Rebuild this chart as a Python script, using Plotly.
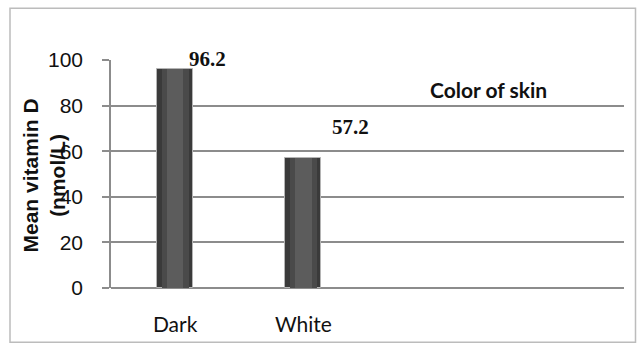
import plotly.graph_objects as go

# Mean vitamin D by skin colour
categories = ["Dark", "White"]
mean_vit_d = [96.2, 57.2]
y_ticks = [0, 20, 40, 60, 80, 100]
series_name = "Color of skin"
y_title = "Mean vitamin D<br>(nmol/L)"

W, H = 640, 348
L, R, T, B = 111, 16, 60, 57
pw, ph = W - L - R, H - T - B

def px_x(p):
    return (p - L) / pw

def px_y(p):
    return (H - B - p) / ph

xs = list(range(len(categories)))

fig = go.Figure()
# shaded bar bodies: dark edges, lighter towards the middle
shades = [(0.28, "#3a3a3a"), (0.21, "#4a4a4a"), (0.13, "#5c5c5c")]
for k, (wd, col) in enumerate(shades):
    fig.add_trace(go.Bar(
        x=xs, y=mean_vit_d, width=wd,
        marker=dict(color=col,
                    line=dict(color="#b4b4b4", width=1 if k == 0 else 0)),
        name=series_name, showlegend=False,
        hoverinfo="skip" if k else None,
    ))

# white gap in the top gridline behind the first label
fig.add_shape(
    type="rect", xref="paper", yref="paper",
    x0=px_x(164), x1=px_x(251), y0=px_y(63), y1=px_y(57),
    line=dict(width=0), fillcolor="white", layer="above",
)

# value labels, set above and right of each bar
label_dx = [0.25, 0.37]
label_shift = [10, 31]
for i, v in enumerate(mean_vit_d):
    fig.add_annotation(
        x=xs[i] + label_dx[i], y=v, xref="x", yref="y", yshift=label_shift[i],
        text=f"<b>{v:.1f}</b>", showarrow=False,
        xanchor="center", yanchor="middle",
        font=dict(family="Liberation Serif", size=21, color="#111"),
    )

fig.add_annotation(
    x=px_x(488), y=px_y(90), xref="paper", yref="paper",
    text=f"<b>{series_name}</b>", showarrow=False,
    xanchor="center", yanchor="middle",
    font=dict(family="Lato", size=21, color="#111"),
)

fig.add_annotation(
    x=px_x(44), y=px_y(177), xref="paper", yref="paper",
    text=f"<b>{y_title}</b>", textangle=-90, showarrow=False,
    xanchor="center", yanchor="middle",
    font=dict(family="Liberation Sans", size=21, color="#111"),
)

# chart frame
fig.add_shape(
    type="rect", xref="paper", yref="paper",
    x0=px_x(10), x1=px_x(635.5), y0=px_y(346), y1=px_y(7.5),
    line=dict(color="#bcbcbc", width=1.5), fillcolor="rgba(0,0,0,0)",
    layer="below",
)

fig.update_layout(
    width=W, height=H,
    margin=dict(l=L, r=R, t=T, b=B),
    paper_bgcolor="white", plot_bgcolor="white",
    barmode="overlay", bargap=0,
    font=dict(family="Liberation Sans", color="#111"),
)
fig.update_xaxes(
    range=[-0.5, 3.5], tickvals=xs, ticktext=categories,
    showgrid=False, zeroline=False, showline=False, ticks="",
    tickfont=dict(family="Lato", size=21, color="#111"),
    ticklabelstandoff=22,
)
fig.update_yaxes(
    range=[0, 100], tickvals=y_ticks,
    showgrid=True, gridcolor="#8c8c8c", gridwidth=1.5,
    zeroline=True, zerolinecolor="#8c8c8c", zerolinewidth=2,
    showline=True, linecolor="#8c8c8c", linewidth=1.5,
    ticks="outside", ticklen=7, tickcolor="#8c8c8c", tickwidth=1.5,
    tickfont=dict(family="Liberation Sans", size=21, color="#111"),
    ticklabelstandoff=15,
)

fig.write_html("out.html")
